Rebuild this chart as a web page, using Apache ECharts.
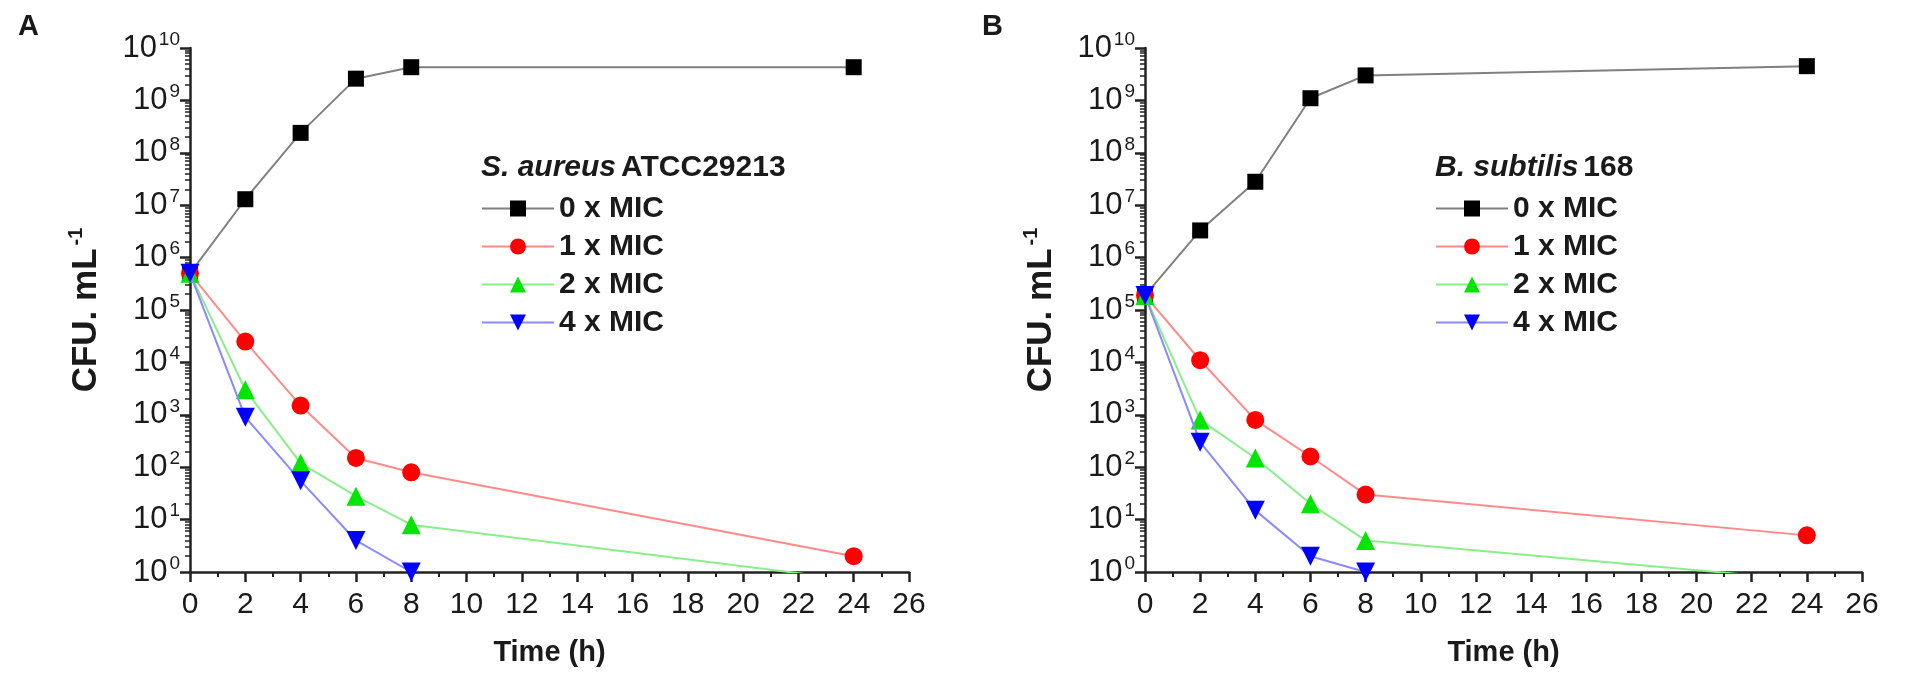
<!DOCTYPE html>
<html>
<head>
    <meta charset="utf-8">
    <title>Time-kill curves</title>
    <script src="https://cdn.jsdelivr.net/npm/echarts@6.0.0/dist/echarts.min.js"></script>
    <style>
        html, body { margin: 0; padding: 0; background: #fff; }
        #chart { width: 1908px; height: 694px; }
    </style>
</head>
<body>
<div id="chart"></div>

<script type="text/javascript">
    // sampling times (h)
    var times = [0, 2, 4, 6, 8, 24];
    var seriesNames = ['0 x MIC', '1 x MIC', '2 x MIC', '4 x MIC'];

    // panel A: S. aureus ATCC29213, CFU/mL
    var aureus0 = [5e5, 1.3e7, 2.4e8, 2.6e9, 4.3e9, 4.3e9];
    var aureus1 = [5e5, 2.5e4, 1.5e3, 150, 80, 2];
    var aureus2 = [5e5, 3e3, 120, 28, 8, 0.7];
    var aureus4 = [5e5, 900, 55, 4, 1, null];

    // panel B: B. subtilis 168, CFU/mL
    var subtilis0 = [1.9e5, 3.3e6, 2.8e7, 1.1e9, 3e9, 4.5e9];
    var subtilis1 = [1.9e5, 1.1e4, 800, 160, 30, 5];
    var subtilis2 = [1.9e5, 800, 150, 20, 4, 0.7];
    var subtilis4 = [1.9e5, 300, 15, 2, 1, null];

    // axis ranges
    var xMin = 0, xMax = 26, xStep = 2;
    var yMin = 1, yMax = 1e10;

    var font = 'Liberation Sans, Arial, sans-serif';
    var ink = '#1a1a1a';

    var lineColors = ['#808080', '#ff8a8a', '#8aee8a', '#8a8aff'];
    var markColors = ['#000000', '#ff0000', '#00e600', '#0000ff'];
    var markShapes = ['rect', 'circle', 'triangle', 'path://M0,0 L10,0 L5,9 Z'];
    var markSizes = [16, 18, 19, 19];

    // minor tick positions on the log axis (in decades)
    var minorTicks = [];
    for (var d = 0; d < 10; d++) {
        for (var m = 2; m <= 9; m++) {
            minorTicks.push(d + Math.log10(m));
        }
    }

    var grids = [
        {left: 190, top: 48, width: 719, height: 524},
        {left: 1145, top: 48, width: 717, height: 524}
    ];

    function pairs(vals) {
        return times.map(function (t, i) { return [t, vals[i]]; });
    }

    var supRich = {
        n: {fontSize: 31, lineHeight: 36, color: ink, fontFamily: font},
        s: {fontSize: 19, lineHeight: 36, verticalAlign: 'top', color: ink, fontFamily: font, padding: [0, 0, 0, 2]}
    };

    var xAxes = [], yAxes = [], series = [];
    grids.forEach(function (g, gi) {
        xAxes.push({
            gridIndex: gi,
            type: 'value',
            min: xMin, max: xMax, interval: xStep,
            name: 'Time (h)',
            nameLocation: 'middle',
            nameGap: 66,
            nameTextStyle: {fontSize: 29, fontWeight: 'bold', color: ink, fontFamily: font},
            axisLine: {lineStyle: {color: '#222', width: 2.5}},
            axisTick: {length: 10, lineStyle: {color: '#222', width: 2.5}},
            minorTick: {show: true, splitNumber: 2, length: 5, lineStyle: {color: '#222', width: 2}},
            axisLabel: {fontSize: 30, color: ink, fontFamily: font, margin: 18},
            splitLine: {show: false}
        });
        yAxes.push({
            gridIndex: gi,
            type: 'log',
            logBase: 10,
            min: yMin, max: yMax, interval: 1,
            name: '{b|CFU. mL}{s|-1}',
            nameLocation: 'middle',
            nameRotate: 90,
            nameGap: 84,
            nameTextStyle: {
                rich: {
                    b: {fontSize: 35, fontWeight: 'bold', lineHeight: 40, color: ink, fontFamily: font},
                    s: {fontSize: 20, fontWeight: 'bold', lineHeight: 40, verticalAlign: 'top', color: ink, fontFamily: font, padding: [0, 0, 0, 3]}
                }
            },
            axisLine: {show: true, lineStyle: {color: '#222', width: 2.5}},
            axisTick: {length: 10, lineStyle: {color: '#222', width: 2.5}},
            axisLabel: {
                margin: 10,
                formatter: function (v) {
                    return '{n|10}{s|' + Math.round(Math.log10(v)) + '}';
                },
                rich: supRich
            },
            splitLine: {show: false}
        });
        // overlay axis carrying only the log minor ticks
        yAxes.push({
            gridIndex: gi,
            type: 'value',
            min: 0, max: 10,
            position: 'left',
            axisLine: {show: false},
            axisTick: {show: true, length: 5, customValues: minorTicks, lineStyle: {color: '#222', width: 1.5}},
            axisLabel: {show: false},
            splitLine: {show: false}
        });
    });

    var panelData = [
        [aureus0, aureus1, aureus2, aureus4],
        [subtilis0, subtilis1, subtilis2, subtilis4]
    ];
    panelData.forEach(function (list, gi) {
        list.forEach(function (vals, si) {
            series.push({
                name: seriesNames[si],
                type: 'line',
                xAxisIndex: gi,
                yAxisIndex: gi * 2,
                data: pairs(vals),
                clip: true,
                connectNulls: false,
                symbol: markShapes[si],
                symbolSize: markSizes[si],
                showAllSymbol: true,
                itemStyle: {color: markColors[si]},
                lineStyle: {color: lineColors[si], width: 2},
                emphasis: {disabled: true},
                z: 2 + si
            });
        });
    });

    function legendAt(left) {
        return {
            orient: 'vertical',
            left: left,
            top: 186,
            itemWidth: 72,
            itemHeight: 20,
            itemGap: 3,
            data: seriesNames,
            selectedMode: false,
            textStyle: {fontSize: 30, fontWeight: 'bold', color: ink, fontFamily: font, lineHeight: 35}
        };
    }

    var titleRich = {
        i: {fontSize: 30, fontWeight: 'bold', fontStyle: 'italic', color: ink, fontFamily: font},
        b: {fontSize: 30, fontWeight: 'bold', color: ink, fontFamily: font}
    };

    var chart = echarts.init(document.getElementById('chart'));
    chart.setOption({
        backgroundColor: '#ffffff',
        animation: false,
        title: [
            {text: 'A', left: 13, top: 7, textStyle: {fontSize: 29, fontWeight: 'bold', color: ink, fontFamily: font}},
            {text: 'B', left: 977, top: 7, textStyle: {fontSize: 29, fontWeight: 'bold', color: ink, fontFamily: font}},
            {text: '{i|S. aureus} {b|ATCC29213}', left: 476, top: 148, textStyle: {rich: titleRich}},
            {text: '{i|B. subtilis} {b|168}', left: 1430, top: 148, textStyle: {rich: titleRich}}
        ],
        legend: [legendAt(476), legendAt(1430)],
        grid: grids,
        xAxis: xAxes,
        yAxis: yAxes,
        series: series
    });
</script>
</body>
</html>
